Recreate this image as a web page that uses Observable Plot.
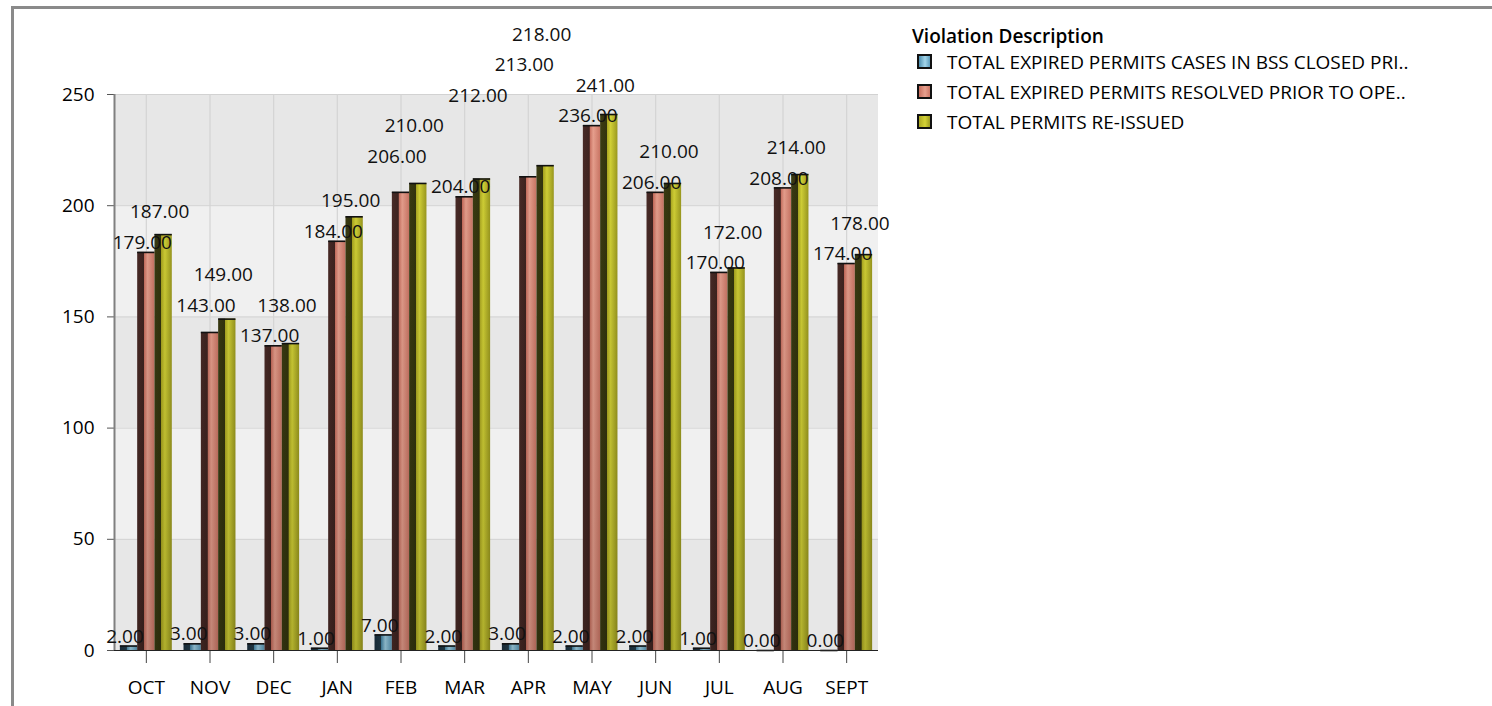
<!DOCTYPE html>
<html><head><meta charset="utf-8">
<script src="https://cdn.jsdelivr.net/npm/d3@7"></script>
<script src="https://cdn.jsdelivr.net/npm/@observablehq/plot@0.6"></script>
<style>
html,body{margin:0;padding:0;background:#fff;overflow:hidden}
#wrap{position:relative;width:1492px;height:706px;font-family:"Open Sans",sans-serif;color:#000}
#chart{position:absolute;left:0;top:0}
#frame{position:absolute;left:11px;top:6px;width:1700px;height:900px;border-top:3px solid #8a8a8a;border-left:3px solid #8a8a8a;box-sizing:border-box;pointer-events:none}
#legend{position:absolute;left:0;top:0;font-size:19px;line-height:20px}
.lg-title{position:absolute;left:912px;top:26px;font-weight:600;white-space:nowrap}
.lg-item{position:absolute;left:917px;white-space:nowrap;height:20px}
.lg-sw{position:absolute;left:0;top:2px;width:15px;height:15px;box-sizing:border-box;border:2px solid #111}
.lg-tx{position:absolute;left:30px;top:0}
</style></head>
<body><div id="wrap"><div id="chart"></div><div id="frame"></div><div id="legend"></div></div>
<script>
// ---- data ----
const months = ["OCT","NOV","DEC","JAN","FEB","MAR","APR","MAY","JUN","JUL","AUG","SEPT"];
const seriesNames = [
  "TOTAL EXPIRED PERMITS CASES IN BSS CLOSED PRI..",
  "TOTAL EXPIRED PERMITS RESOLVED PRIOR TO OPE..",
  "TOTAL PERMITS RE-ISSUED"
];
const casesClosedPrior = [2,3,3,1,7,2,3,2,2,1,0,0];
const resolvedPrior    = [179,143,137,184,206,204,213,236,206,170,208,174];
const permitsReissued  = [187,149,138,195,210,212,218,241,210,172,214,178];
const yTicks = [0,50,100,150,200,250];
const legendTitle = "Violation Description";

// ---- layout / style ----
const W = 1492, H = 706;
const margins = {marginTop: 94, marginRight: 614, marginBottom: 56, marginLeft: 114};
const FONT = '"Open Sans", sans-serif';
const FS = 19;
const seriesValues = [casesClosedPrior, resolvedPrior, permitsReissued];
const gradIds = ["gBlue","gSalmon","gGreen"];

const rows = [];
months.forEach((m, i) => seriesValues.forEach((vals, k) => rows.push({month: m, i, k, value: vals[i]})));

const xOpts = {type: "band", domain: months, padding: 0, round: false};
const yOpts = {domain: [yTicks[0], yTicks[yTicks.length - 1]], nice: false};

// probe scales
const probe = Plot.plot({width: W, height: H, ...margins, x: xOpts, y: yOpts, marks: []});
const xs = probe.scale("x"), ys = probe.scale("y");
const bandwidth = xs.bandwidth;
const groupW = bandwidth * 0.815;
const bw = groupW / 3;
const pad0 = (bandwidth - groupW) / 2;
const insetL = k => pad0 + k * bw;
const insetR = k => bandwidth - pad0 - (k + 1) * bw;
const labelDx = k => pad0 + (k + 0.5) * bw - bandwidth / 2 - 4;

// ---- label placement (collision avoidance) ----
const fmt = d3.format(".2f");
const ctx = document.createElement("canvas").getContext("2d");
ctx.font = `${FS}px ${FONT}`;
const S = 30.5, TOUCH = S + 2, PADX = 10, LIFT = 9.5;
const labels = rows.map(r => ({
  ...r,
  text: fmt(r.value),
  x: xs.apply(r.month) + bandwidth / 2 + labelDx(r.k),
  y0: ys.apply(r.value) - LIFT,
  w: ctx.measureText(fmt(r.value)).width
}));
const order = labels.slice().sort((a, b) => a.value - b.value || a.i - b.i || a.k - b.k);
const placed = [];
const xOver = (a, b) => Math.abs(a.x - b.x) < (a.w + b.w) / 2 + PADX;
const collide = (a, b) => xOver(a, b) && Math.abs(a.y - b.y) < S - 0.01;
const touch = (a, b) => xOver(a, b) && Math.abs(a.y - b.y) <= TOUCH;
function cluster(p) {
  const seen = new Set([p]), stack = [p];
  while (stack.length) {
    const c = stack.pop();
    for (const q of placed) if (!seen.has(q) && touch(c, q)) { seen.add(q); stack.push(q); }
  }
  return [...seen];
}
for (const L of order) {
  L.y = L.y0;
  for (let guard = 0; guard < 60; guard++) {
    const hit = placed.find(P => collide(L, P) ||
      (P.i === L.i && P.value < L.value && L.y > P.y - S + 0.01));
    if (!hit) break;
    const C = cluster(hit).filter(m => m === hit || xOver(L, m));
    const top = Math.min(...C.map(m => m.y));
    L.y = Math.min(L.y - 0.5, top - S);
  }
  placed.push(L);
}
labels.forEach(l => l.yPos = ys.invert(l.y));

// ---- background bands ----
const bands = yTicks.slice(1).map((t, j) => ({lo: yTicks[j], hi: t, dark: j % 2 === 0}));

const marks = [
  Plot.rect(bands.filter(b => b.dark), {y1: "lo", y2: "hi", fill: "#e7e7e7"}),
  Plot.rect(bands.filter(b => !b.dark), {y1: "lo", y2: "hi", fill: "#f0f0f0"}),
  Plot.ruleY(yTicks.slice(1), {stroke: "#d2d2d2", strokeWidth: 1}),
  Plot.ruleX(months, {stroke: "#d4d4d4", strokeWidth: 1.2}),
];
[0, 1, 2].forEach(k => {
  const d = rows.filter(r => r.k === k);
  marks.push(Plot.barY(d, {x: "month", y: "value", fill: `url(#${gradIds[k]})`, insetLeft: insetL(k), insetRight: insetR(k)}));
  marks.push(Plot.barY(d, {x: "month", y: "value", fill: "url(#gShade)", insetLeft: insetL(k), insetRight: insetR(k)}));
  marks.push(Plot.tickY(d, {x: "month", y: "value", stroke: "#111", strokeWidth: 1.6, insetLeft: insetL(k), insetRight: insetR(k)}));
});
marks.push(
  Plot.axisY({ticks: yTicks, tickSize: 7, tickPadding: 13, stroke: "#555", fontSize: FS, tickFormat: d3.format("d")}),
  Plot.axisX({tickSize: 13, tickPadding: 17, stroke: "#444", fontSize: FS}),
  Plot.ruleY([0], {stroke: "#222", strokeWidth: 1.2}),
  Plot.ruleX([months[0]], {dx: -bandwidth / 2, stroke: "#808080", strokeWidth: 2})
);
[0, 1, 2].forEach(k => {
  marks.push(Plot.text(labels.filter(l => l.k === k), {
    x: "month", y: "yPos", text: "text", dx: labelDx(k), lineAnchor: "middle",
    fill: "#111", fontSize: FS
  }));
});

const chart = Plot.plot({
  width: W, height: H, ...margins,
  x: {...xOpts, label: null},
  y: {...yOpts, label: null},
  style: {fontFamily: FONT, fontSize: `${FS}px`, color: "#000", background: "transparent", overflow: "visible"},
  marks
});

// gradients
const ns = "http://www.w3.org/2000/svg";
const defs = document.createElementNS(ns, "defs");
const mkGrad = (id, stops) =>
  `<linearGradient id="${id}" x1="0" y1="0" x2="1" y2="0">` +
  stops.map(([o, c]) => `<stop offset="${o}" stop-color="${c}"/>`).join("") + `</linearGradient>`;
defs.innerHTML =
  mkGrad("gBlue", [[0,"#1c3140"],[0.38,"#243e4c"],[0.40,"#4d8eaf"],[0.62,"#a3d5ea"],[1,"#5c9bbb"]]) +
  mkGrad("gSalmon", [[0,"#4a2b27"],[0.38,"#3f2420"],[0.40,"#c86f5f"],[0.6,"#e8a08e"],[1,"#cc7665"]]) +
  mkGrad("gGreen", [[0,"#3b3c12"],[0.38,"#33340e"],[0.40,"#aca822"],[0.6,"#d3d236"],[1,"#9c9a1f"]]) +
  `<linearGradient id="gShade" gradientUnits="userSpaceOnUse" x1="0" y1="${ys.apply(yTicks[yTicks.length-1])}" x2="0" y2="${ys.apply(0)}">` +
  `<stop offset="0" stop-color="#000" stop-opacity="0"/><stop offset="1" stop-color="#000" stop-opacity="0.16"/></linearGradient>`;
chart.prepend(defs);
document.getElementById("chart").appendChild(chart);

// legend
const legend = document.getElementById("legend");
const swatchCss = [
  "linear-gradient(90deg,#4d8eaf,#a3d5ea 55%,#5c9bbb)",
  "linear-gradient(90deg,#c86f5f,#e8a08e 55%,#cc7665)",
  "linear-gradient(90deg,#aca822,#d3d236 55%,#9c9a1f)"
];
const t = document.createElement("div");
t.className = "lg-title"; t.textContent = legendTitle; legend.appendChild(t);
seriesNames.forEach((name, k) => {
  const it = document.createElement("div");
  it.className = "lg-item";
  it.style.top = (52 + k * 30) + "px";
  it.innerHTML = `<div class="lg-sw" style="background:${swatchCss[k]}"></div><div class="lg-tx"></div>`;
  it.querySelector(".lg-tx").textContent = name;
  legend.appendChild(it);
});
</script>
</body></html>
